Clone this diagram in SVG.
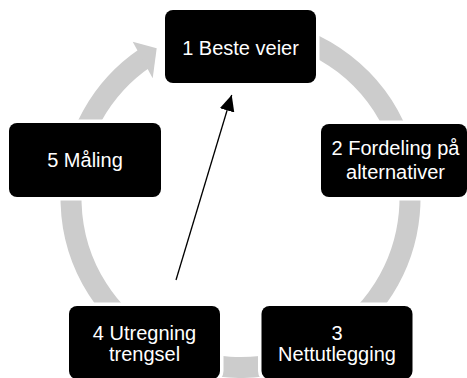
<svg xmlns="http://www.w3.org/2000/svg" width="467" height="378" viewBox="0 0 467 378">
  <style>
    .ring { fill: none; stroke: #cccccc; stroke-width: 21; }
    .head { fill: #cccccc; }
    .box { fill: #000000; stroke: #ffffff; stroke-width: 7; paint-order: stroke; }
    .lbl { fill: #ffffff; font-family: "Liberation Sans", Arial, sans-serif; font-size: 20px; text-anchor: middle; }
    .link { stroke: #000000; stroke-width: 1.3; fill: none; }
  </style>
  <defs>
    <marker id="tri" viewBox="0 0 16 15" refX="16" refY="7.5" markerWidth="16" markerHeight="15" markerUnits="userSpaceOnUse" orient="auto">
      <path d="M0,0 L16,7.5 L0,15 Z" fill="#000000"/>
    </marker>
  </defs>
  <rect width="467" height="378" fill="#ffffff"/>
  <g id="connectors">
    <g id="cycle-ring">
      <path class="ring" d="M182.53,38.72 A169.5,169.5 0 1 1 145.72,57.48"/>
      <polygon class="head" points="132.7,41.7 156.7,48.3 152.7,78.3"/>
    </g>
    <line class="link" x1="176" y1="280" x2="231.7" y2="95" marker-end="url(#tri)"/>
  </g>
  <g id="node1">
    <rect class="box" x="165" y="10" width="151" height="73" rx="8"/>
    <text class="lbl" x="240.5" y="55">1 Beste veier</text>
  </g>
  <g id="node2">
    <rect class="box" x="321" y="124" width="146" height="73" rx="8"/>
    <text class="lbl" x="395.5" y="155">2 Fordeling på</text>
    <text class="lbl" x="395.5" y="179">alternativer</text>
  </g>
  <g id="node3">
    <rect class="box" x="261.5" y="306" width="151" height="73" rx="8"/>
    <text class="lbl" x="337" y="340">3</text>
    <text class="lbl" x="337" y="361">Nettutlegging</text>
  </g>
  <g id="node4">
    <rect class="box" x="69" y="306" width="151" height="73" rx="8"/>
    <text class="lbl" x="144.5" y="340">4 Utregning</text>
    <text class="lbl" x="144.5" y="361">trengsel</text>
  </g>
  <g id="node5">
    <rect class="box" x="9" y="123" width="152" height="74" rx="8"/>
    <text class="lbl" x="85" y="167">5 Måling</text>
  </g>
</svg>
